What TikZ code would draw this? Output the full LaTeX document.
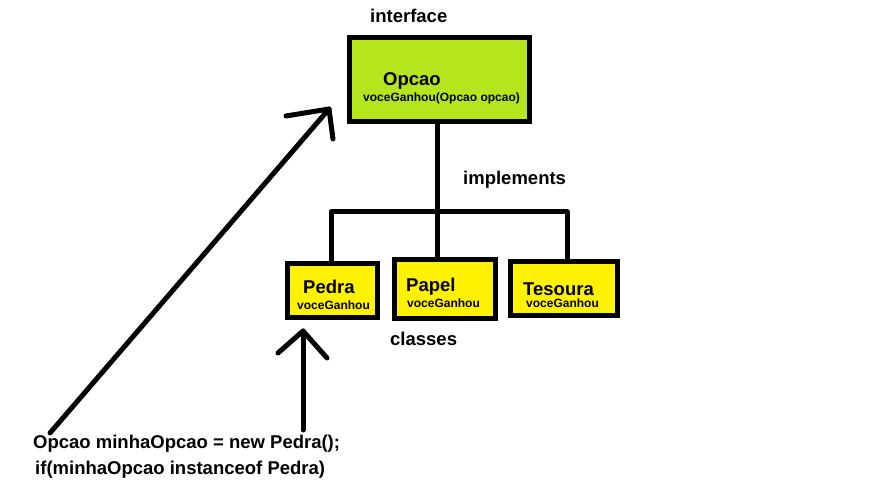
\documentclass[tikz,border=0pt]{standalone}
\usepackage{fontspec}
\setmainfont{Liberation Sans}
\definecolor{limefill}{RGB}{181,230,29}
\definecolor{yellowfill}{RGB}{255,242,0}
\begin{document}
\begin{tikzpicture}[x=1pt,y=-1pt,
  box/.style={draw=black,line width=5pt,rectangle,inner sep=0pt,outer sep=0pt},
  big/.style={font=\bfseries\fontsize{18.5}{20}\selectfont,inner sep=0pt,anchor=base west},
  small/.style={font=\bfseries\fontsize{12}{14}\selectfont,inner sep=0pt,anchor=base west},
  conn/.style={line width=5pt,line cap=round,line join=round}]
\useasboundingbox[fill=white] (0,0) rectangle (895,500);
% boxes
\node[box,fill=limefill,minimum width=180pt,minimum height=84pt] (opcao) at (439.5,79.5) {};
\node[box,fill=yellowfill,minimum width=90pt,minimum height=54pt] (pedra) at (332.5,290.5) {};
\node[box,fill=yellowfill,minimum width=101pt,minimum height=59pt] (papel) at (445,289) {};
\node[box,fill=yellowfill,minimum width=107pt,minimum height=54pt] (tesoura) at (564,288.5) {};
% texts
\node[big] (tinterface) at (370,23) {interface};
\node[big] (topcao) at (383,86) {Opcao};
\node[small] (tmeth) at (363,102) {voceGanhou(Opcao opcao)};
\node[big] (tpedra) at (303,293) {Pedra};
\node[small] (mpedra) at (297,309) {voceGanhou};
\node[big] (tpapel) at (406,291) {Papel};
\node[small] (mpapel) at (407,307) {voceGanhou};
\node[big] (ttesoura) at (523,295) {Tesoura};
\node[small] (mtesoura) at (526,307) {voceGanhou};
\node[big] (timpl) at (463,185) {implements};
\node[big] (tclasses) at (390,345) {classes};
\node[big] (code1) at (33,448) {Opcao minhaOpcao = new Pedra();};
\node[big] (code2) at (35,474) {if(minhaOpcao instanceof Pedra)};
% tree connectors
\coordinate (j) at (437,212);
\coordinate (jl) at (331,212);
\coordinate (jr) at (567,212);
\draw[conn] (j |- opcao.south) -- (j);
\draw[conn] (jl |- pedra.north) -- (jl) -- (jr) -- (jr |- tesoura.north);
\draw[conn] (j) -- (j |- papel.north);
% arrows
\coordinate (a1s) at (50,433);
\coordinate (a1t) at (329,109);
\coordinate (a1l) at (286,116);
\coordinate (a1r) at (333,139);
\draw[conn] (a1s) -- (a1t);
\draw[conn] (a1l) -- (a1t) -- (a1r);
\coordinate (a2s) at (303,430);
\coordinate (a2t) at (303,331);
\coordinate (a2l) at (278,353);
\coordinate (a2r) at (327,358);
\draw[conn] (a2s) -- (a2t);
\draw[conn] (a2l) -- (a2t) -- (a2r);
\end{tikzpicture}
\end{document}
